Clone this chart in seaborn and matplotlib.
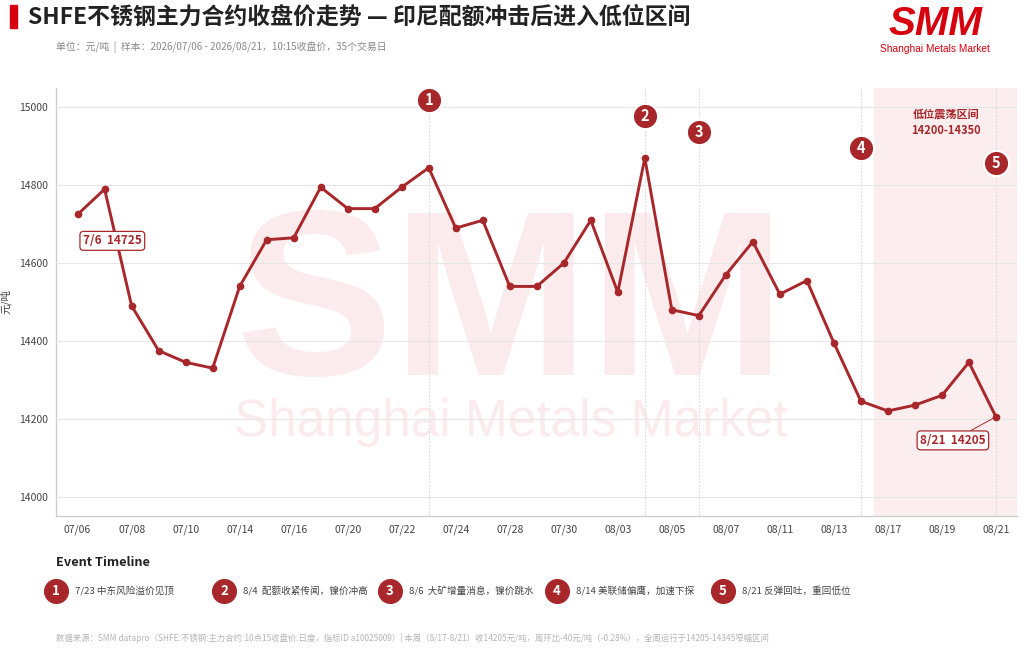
import matplotlib
matplotlib.use("Agg")
import matplotlib.pyplot as plt
import seaborn as sns
import numpy as np
import pandas as pd
from matplotlib.patches import Rectangle

# ---------------- data ----------------
dates = ["07/06", "07/07", "07/08", "07/09", "07/10", "07/13", "07/14", "07/15", "07/16", "07/17",
         "07/20", "07/21", "07/22", "07/23", "07/24", "07/27", "07/28", "07/29", "07/30", "07/31",
         "08/03", "08/04", "08/05", "08/06", "08/07", "08/10", "08/11", "08/12", "08/13", "08/14",
         "08/17", "08/18", "08/19", "08/20", "08/21"]
prices = [14725, 14790, 14490, 14375, 14345, 14330, 14540, 14660, 14665, 14795,
          14740, 14740, 14795, 14845, 14690, 14710, 14540, 14540, 14600, 14710,
          14525, 14870, 14480, 14465, 14570, 14655, 14520, 14555, 14395, 14245,
          14220, 14235, 14260, 14345, 14205]
event_dates = ["07/23", "08/04", "08/06", "08/14", "08/21"]
event_labels = ["7/23 中东风险溢价见顶", "8/4  配额收紧传闻，镍价冲高", "8/6  大矿增量消息，镍价跳水",
                "8/14 美联储偏鹰，加速下探", "8/21 反弹回吐，重回低位"]
zone_start = "08/17"
zone_title = "低位震荡区间"
zone_range = "14200-14350"

title = "SHFE不锈钢主力合约收盘价走势 — 印尼配额冲击后进入低位区间"
subtitle = "单位：元/吨  |  样本：2026/07/06 - 2026/08/21，10:15收盘价，35个交易日"
footer = ("数据来源：SMM datapro（SHFE:不锈钢:主力合约:10点15收盘价:日度，指标ID a10025009）| "
          "本周（8/17-8/21）收14205元/吨，周环比-40元/吨（-0.28%），全周运行于14205-14345窄幅区间")

df = pd.DataFrame({"idx": np.arange(len(dates)), "date": dates, "price": prices})

# ---------------- style ----------------
sns.set_theme(style="white")
plt.rcParams['font.family'] = ['Noto Sans CJK SC', 'DejaVu Sans']
plt.rcParams['axes.unicode_minus'] = False

RED = "#A8272B"
BRAND = "#D7000F"
WM = "#FCEBEC"

fig = plt.figure(figsize=(10.24, 6.52), dpi=100)
ax = fig.add_axes([56 / 1024, 1 - 516 / 652, (1017 - 56) / 1024, (516 - 88) / 652])

n = len(dates)
xmin, xmax = -0.8, n - 1 + 0.78
ax.set_xlim(xmin, xmax)
ax.set_ylim(13950, 15050)

# shaded low zone
zs = dates.index(zone_start) - 0.5
ax.axvspan(zs, xmax, color="#FCEEEE", zorder=0, lw=0)

# watermark
wx = (511 - 56) / 961
ax.text(wx, (516 - 375) / 428, "SMM", transform=ax.transAxes, ha="center", va="baseline",
        fontsize=170, fontweight="bold", family="Liberation Sans", color=WM, zorder=0.5)
ax.text(wx, (516 - 436) / 428, "Shanghai Metals Market", transform=ax.transAxes, ha="center",
        va="baseline", fontsize=37, family="Liberation Sans", color=WM, zorder=0.5)

# grid
ax.yaxis.grid(True, color="#e6e6e6", lw=0.8, zorder=1)
ax.xaxis.grid(False)
ax.set_axisbelow(False)

# event vertical lines
for i, d in enumerate(event_dates):
    xi = dates.index(d)
    ax.axvline(xi, color="#d9d9d9", lw=0.8, ls=(0, (1.5, 1.5)), zorder=1.2)

# main line
sns.lineplot(data=df, x="idx", y="price", ax=ax, color=RED, lw=2.1, marker="o",
             markersize=5.5, markeredgewidth=0, zorder=3)

# event badges
for i, d in enumerate(event_dates):
    xi = dates.index(d)
    yb = 15018 - 40.5 * i
    ax.scatter([xi], [yb], s=330, color=RED, edgecolor="white", linewidth=1.5, zorder=5, clip_on=False)
    ax.text(xi, yb, str(i + 1), ha="center", va="center", color="white", fontsize=10.5,
            fontweight="bold", zorder=6)

# zone label
ax.text((zs + xmax) / 2, 14962, zone_title + "\n" + zone_range, ha="center", va="center",
        color=RED, fontsize=8, fontweight="bold", linespacing=1.3, zorder=4)

# first/last annotations
def callout(i, dx, dy, txt, line=True):
    ax.annotate(txt, xy=(i, prices[i]), xytext=(dx, dy), textcoords="offset points",
                ha="center", va="center", color=RED, fontsize=8.5, fontweight="bold",
                bbox=dict(boxstyle="round,pad=0.25,rounding_size=0.3", fc="white", ec=RED, lw=0.9),
                arrowprops=dict(arrowstyle="-", color=RED, lw=0.7, shrinkA=0, shrinkB=0) if line else None,
                zorder=7)

callout(0, 25, -19, f"7/6  {prices[0]}", line=False)
callout(n - 1, -31, -17, f"8/21  {prices[-1]}")

# axes
ticks_idx = list(range(0, n, 2))
ax.set_xticks(ticks_idx)
ax.set_xticklabels([dates[i] for i in ticks_idx])
ax.set_yticks([14000, 14200, 14400, 14600, 14800, 15000])
ax.tick_params(axis="both", labelsize=7.5, colors="#444444", length=3, width=0.8, color="#999999", pad=3)
ax.set_xlabel("")
ax.set_ylabel("元/吨", fontsize=7.5, color="#444444", labelpad=5)
for s in ["top", "right"]:
    ax.spines[s].set_visible(False)
for s in ["left", "bottom"]:
    ax.spines[s].set_color("#cccccc")
    ax.spines[s].set_linewidth(0.9)

# ---------------- header ----------------
fig.patches.append(Rectangle((10 / 1024, 1 - 28 / 652), 7 / 1024, 23 / 652,
                             transform=fig.transFigure, color=BRAND, zorder=5))
fig.text(28 / 1024, 1 - 17 / 652, title, ha="left", va="center", fontsize=16.5,
         fontweight="bold", color="#222222")
fig.text(56 / 1024, 1 - 47 / 652, subtitle, ha="left", va="center", fontsize=7.1, color="#888888")

# logo
fig.text(935 / 1024, 1 - 35 / 652, "SMM", ha="center", va="baseline", fontsize=29,
         fontweight="bold", fontstyle="italic", family="Liberation Sans", color=BRAND)
fig.text(935 / 1024, 1 - 48.5 / 652, "Shanghai Metals Market", ha="center", va="center",
         fontsize=7.3, family="Liberation Sans", color=BRAND)

# ---------------- event timeline ----------------
fig.text(56 / 1024, 1 - 562 / 652, "Event Timeline", ha="left", va="center", fontsize=9.2,
         fontweight="bold", color="#222222")
xs_badge = [56, 224, 390, 557, 723]
bax = fig.add_axes([0, 0, 1, 1], facecolor="none")
bax.set_xlim(0, 1024)
bax.set_ylim(652, 0)
bax.axis("off")
for i, (xb, lab) in enumerate(zip(xs_badge, event_labels)):
    bax.scatter([xb], [591], s=290, color=RED, zorder=5)
    bax.text(xb, 591, str(i + 1), ha="center", va="center", color="white", fontsize=9.5,
             fontweight="bold", zorder=6)
    bax.text(xb + 19, 591, lab, ha="left", va="center", fontsize=6.9, color="#444444")

# footer
fig.text(56 / 1024, 1 - 638 / 652, footer, ha="left", va="center", fontsize=6.0, color="#b5b5b5")

fig.savefig("out.png", dpi=100)
